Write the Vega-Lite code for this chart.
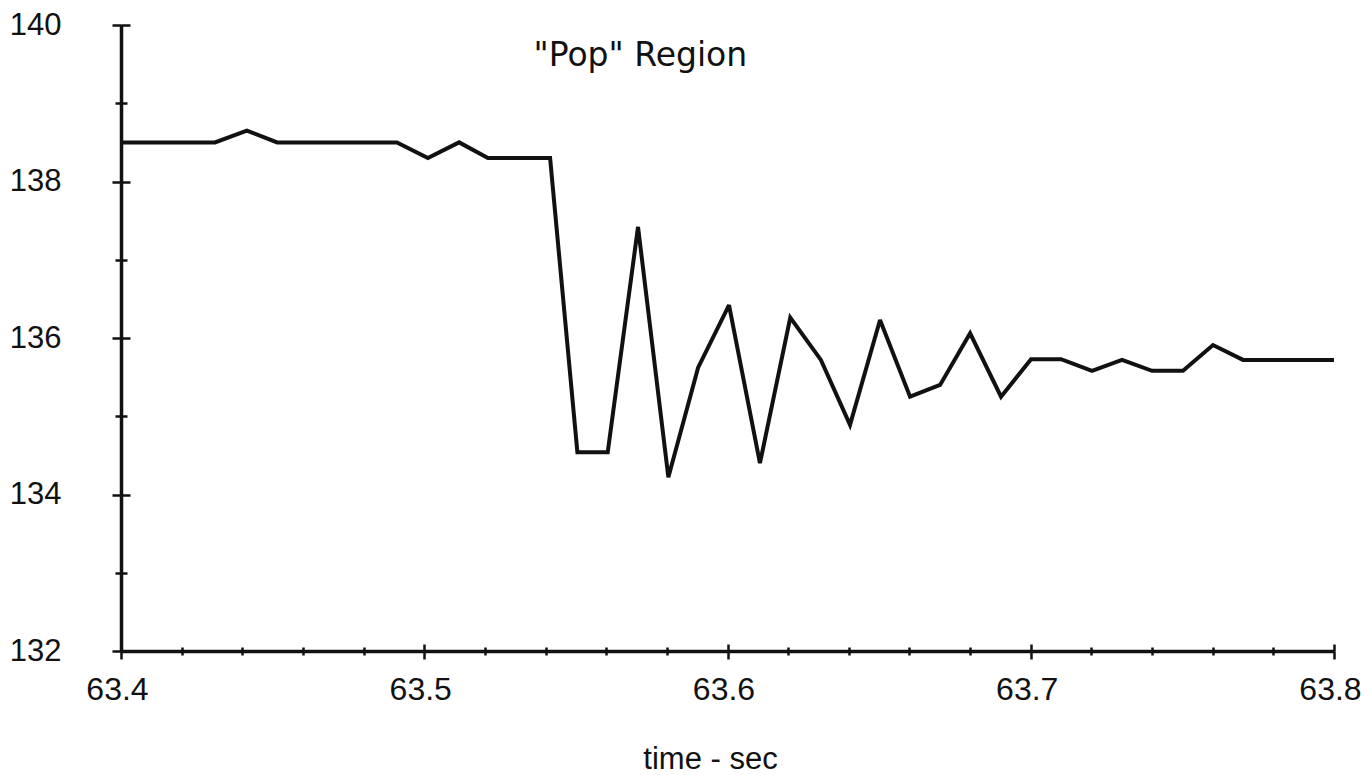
{
  "$schema": "https://vega.github.io/schema/vega-lite/v6.json",
  "width": 1213,
  "height": 626,
  "autosize": {"type": "none"},
  "padding": {"left": 121, "top": 25, "right": 38, "bottom": 124},
  "background": "white",
  "config": {"view": {"stroke": null}, "axis": {"grid": false}},
  "data": {
    "values": [
      {"t": 63.400, "v": 138.5},
      {"t": 63.411, "v": 138.5},
      {"t": 63.421, "v": 138.5},
      {"t": 63.431, "v": 138.5},
      {"t": 63.4415, "v": 138.65},
      {"t": 63.4515, "v": 138.5},
      {"t": 63.461, "v": 138.5},
      {"t": 63.471, "v": 138.5},
      {"t": 63.481, "v": 138.5},
      {"t": 63.491, "v": 138.5},
      {"t": 63.5012, "v": 138.3},
      {"t": 63.5115, "v": 138.5},
      {"t": 63.521, "v": 138.3},
      {"t": 63.531, "v": 138.3},
      {"t": 63.5415, "v": 138.3},
      {"t": 63.5505, "v": 134.54},
      {"t": 63.5605, "v": 134.54},
      {"t": 63.5705, "v": 137.42},
      {"t": 63.5805, "v": 134.22},
      {"t": 63.5903, "v": 135.62},
      {"t": 63.6005, "v": 136.42},
      {"t": 63.6107, "v": 134.4},
      {"t": 63.6207, "v": 136.26},
      {"t": 63.6308, "v": 135.72},
      {"t": 63.6404, "v": 134.89},
      {"t": 63.6503, "v": 136.23},
      {"t": 63.6602, "v": 135.25},
      {"t": 63.6701, "v": 135.4},
      {"t": 63.68, "v": 136.06},
      {"t": 63.6902, "v": 135.25},
      {"t": 63.7001, "v": 135.73},
      {"t": 63.71, "v": 135.73},
      {"t": 63.7202, "v": 135.58},
      {"t": 63.7301, "v": 135.72},
      {"t": 63.74, "v": 135.58},
      {"t": 63.7502, "v": 135.58},
      {"t": 63.7601, "v": 135.91},
      {"t": 63.77, "v": 135.72},
      {"t": 63.78, "v": 135.72},
      {"t": 63.79, "v": 135.72},
      {"t": 63.80, "v": 135.72}
    ]
  },
  "layer": [
    {
      "mark": {"type": "line", "color": "#111111", "strokeWidth": 4, "strokeJoin": "miter", "strokeMiterLimit": 3},
      "encoding": {
        "x": {
          "field": "t",
          "type": "quantitative",
          "scale": {"domain": [63.4, 63.8], "nice": false, "zero": false},
          "axis": {
            "orient": "bottom",
            "values": [63.4, 63.42, 63.44, 63.46, 63.48, 63.5, 63.52, 63.54, 63.56, 63.58, 63.6, 63.62, 63.64, 63.66, 63.68, 63.7, 63.72, 63.74, 63.76, 63.78, 63.8],
            "labelExpr": "(round(datum.value*100) % 10 == 0) ? format(datum.value, '.1f') : ''",
            "labelFont": "Liberation Sans",
            "labelFontSize": 32,
            "labelColor": "#111111",
            "labelPadding": 15,
            "labelOffset": -4,
            "labelFlush": false,
            "labelOverlap": false,
            "tickSize": {"condition": {"test": "round(datum.value*100) % 10 == 0", "value": 8}, "value": 4},
            "tickWidth": 2.5,
            "tickColor": "#111111",
            "domainColor": "#111111",
            "domainWidth": 3.5,
            "title": "time - sec",
            "titleFont": "Liberation Sans",
            "titleFontSize": 31,
            "titleFontWeight": "normal",
            "titleColor": "#111111",
            "titleX": 589,
            "titleY": 117,
            "titleAlign": "center",
            "titleBaseline": "alphabetic"
          }
        },
        "y": {
          "field": "v",
          "type": "quantitative",
          "scale": {"domain": [132, 140], "nice": false, "zero": false},
          "axis": {
            "orient": "left",
            "values": [132, 133, 134, 135, 136, 137, 138, 139, 140],
            "labelExpr": "(datum.value % 2 == 0) ? format(datum.value, 'd') : ''",
            "labelFont": "Liberation Sans",
            "labelFontSize": 31,
            "labelColor": "#111111",
            "labelPadding": 51,
            "labelOverlap": false,
            "labelFlush": false,
            "tickSize": {"condition": {"test": "datum.value % 2 == 0", "value": 9}, "value": 6},
            "tickWidth": 2.5,
            "tickColor": "#111111",
            "domainColor": "#111111",
            "domainWidth": 3.5,
            "title": null
          }
        }
      }
    },
    {
      "mark": {"type": "line", "opacity": 0},
      "encoding": {
        "x": {
          "field": "t",
          "type": "quantitative",
          "scale": {"domain": [63.4, 63.8], "nice": false, "zero": false},
          "axis": {
            "orient": "top",
            "offset": -626,
            "values": [63.4, 63.42, 63.44, 63.46, 63.48, 63.5, 63.52, 63.54, 63.56, 63.58, 63.6, 63.62, 63.64, 63.66, 63.68, 63.7, 63.72, 63.74, 63.76, 63.78, 63.8],
            "labels": false,
            "domain": false,
            "tickSize": {"condition": {"test": "round(datum.value*100) % 10 == 0", "value": 7}, "value": 4},
            "tickWidth": 2.5,
            "tickColor": "#111111",
            "title": "\"Pop\" Region",
            "titleFont": "DejaVu Sans",
            "titleFontSize": 33,
            "titleFontWeight": "normal",
            "titleColor": "#111111",
            "titleX": 412,
            "titleY": -586,
            "titleAlign": "left",
            "titleBaseline": "alphabetic"
          }
        },
        "y": {
          "field": "v",
          "type": "quantitative",
          "scale": {"domain": [132, 140], "nice": false, "zero": false},
          "axis": {
            "orient": "right",
            "offset": -1213,
            "values": [132, 133, 134, 135, 136, 137, 138, 139, 140],
            "labels": false,
            "domain": false,
            "tickSize": {"condition": {"test": "datum.value % 2 == 0", "value": 9}, "value": 6},
            "tickWidth": 2.5,
            "tickColor": "#111111",
            "title": null
          }
        }
      }
    }
  ],
  "resolve": {"axis": {"x": "independent", "y": "independent"}}
}
